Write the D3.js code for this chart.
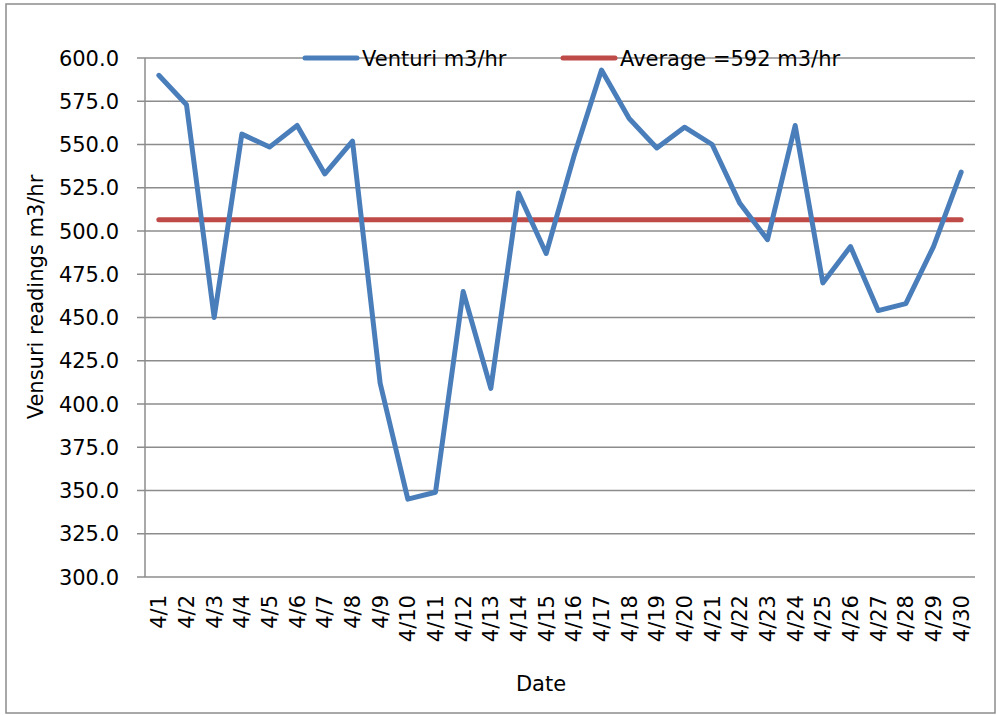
<!DOCTYPE html>
<html>
<head>
<meta charset="utf-8">
<script src="https://cdn.jsdelivr.net/npm/d3@7.9.0/dist/d3.min.js"></script>
<style>
  body { margin: 0; background: #fff; }
  svg text { font-family: "DejaVu Sans", sans-serif; fill: #000; }
</style>
</head>
<body>
<svg id="chart" width="997" height="715"></svg>
<script>
const dates = ['4/1','4/2','4/3','4/4','4/5','4/6','4/7','4/8','4/9','4/10',
  '4/11','4/12','4/13','4/14','4/15','4/16','4/17','4/18','4/19','4/20',
  '4/21','4/22','4/23','4/24','4/25','4/26','4/27','4/28','4/29','4/30'];
const venturi = [590, 573, 450, 556, 548.5, 561, 533, 552, 412, 345,
  349, 465, 409, 522, 487, 543, 593, 565, 548, 560,
  550, 516, 495, 561, 470, 491, 454, 458, 491, 534];
const average = 506.5;
const yTicks = [300, 325, 350, 375, 400, 425, 450, 475, 500, 525, 550, 575, 600];

const svg = d3.select('#chart');
const plotLeft = 145, plotRight = 975, plotTop = 58, plotBottom = 577;
const fontSize = '21px';

// outer frame
svg.append('rect')
  .attr('x', 6).attr('y', 4).attr('width', 989).attr('height', 709)
  .attr('fill', 'none').attr('stroke', '#8c8c8c').attr('stroke-width', 1.5);

let x = d3.scaleBand().domain(dates).range([plotLeft, plotRight]);
let y = d3.scaleLinear().domain([300, 600]).range([plotBottom, plotTop]);

// gridlines
svg.append('g')
  .selectAll('line')
  .data(yTicks)
  .join('line')
  .attr('x1', plotLeft - 8).attr('x2', plotRight)
  .attr('y1', d => y(d)).attr('y2', d => y(d))
  .attr('stroke', '#8c8c8c').attr('stroke-width', 1.5);

svg.append('line')
  .attr('x1', plotLeft).attr('x2', plotLeft)
  .attr('y1', plotTop).attr('y2', plotBottom)
  .attr('stroke', '#8c8c8c').attr('stroke-width', 1.5);

// y labels
svg.append('g')
  .selectAll('text')
  .data(yTicks)
  .join('text')
  .attr('x', plotLeft - 26).attr('y', d => y(d))
  .attr('dy', '0.36em')
  .attr('text-anchor', 'end')
  .style('font-size', fontSize)
  .text(d => d.toFixed(1));

// x labels
svg.append('g')
  .selectAll('text')
  .data(dates)
  .join('text')
  .attr('transform', d => `translate(${x(d) + x.bandwidth() / 2},${plotBottom + 18}) rotate(-90)`)
  .attr('dy', '0.36em')
  .attr('text-anchor', 'end')
  .style('font-size', fontSize)
  .text(d => d);

// axis titles
svg.append('text')
  .attr('transform', 'translate(35,297) rotate(-90)')
  .attr('dy', '0.36em')
  .attr('text-anchor', 'middle')
  .style('font-size', fontSize)
  .text('Vensuri readings m3/hr');

svg.append('text')
  .attr('x', 541).attr('y', 683)
  .attr('dy', '0.36em')
  .attr('text-anchor', 'middle')
  .style('font-size', fontSize)
  .text('Date');

// average line
svg.append('line')
  .attr('x1', x(dates[0]) + x.bandwidth() / 2)
  .attr('x2', x(dates[dates.length - 1]) + x.bandwidth() / 2)
  .attr('y1', y(average)).attr('y2', y(average))
  .attr('stroke', '#be4b48').attr('stroke-width', 5).attr('stroke-linecap', 'round');

// venturi line
let line = d3.line()
  .x((d, i) => x(dates[i]) + x.bandwidth() / 2)
  .y(d => y(d));

svg.append('path')
  .attr('d', line(venturi))
  .attr('fill', 'none')
  .attr('stroke', '#4a7ebb').attr('stroke-width', 5)
  .attr('stroke-linecap', 'round').attr('stroke-linejoin', 'round');

// legend
let legendItems = [
  {label: 'Venturi m3/hr', color: '#4a7ebb', x: 305},
  {label: 'Average =592 m3/hr', color: '#be4b48', x: 563}
];
let legend = svg.append('g');
legendItems.forEach(d => {
  legend.append('line')
    .attr('x1', d.x).attr('x2', d.x + 52)
    .attr('y1', plotTop).attr('y2', plotTop)
    .attr('stroke', d.color).attr('stroke-width', 5).attr('stroke-linecap', 'round');
  legend.append('text')
    .attr('x', d.x + 57).attr('y', plotTop)
    .attr('dy', '0.36em')
    .style('font-size', fontSize)
    .text(d.label);
});
</script>
</body>
</html>
